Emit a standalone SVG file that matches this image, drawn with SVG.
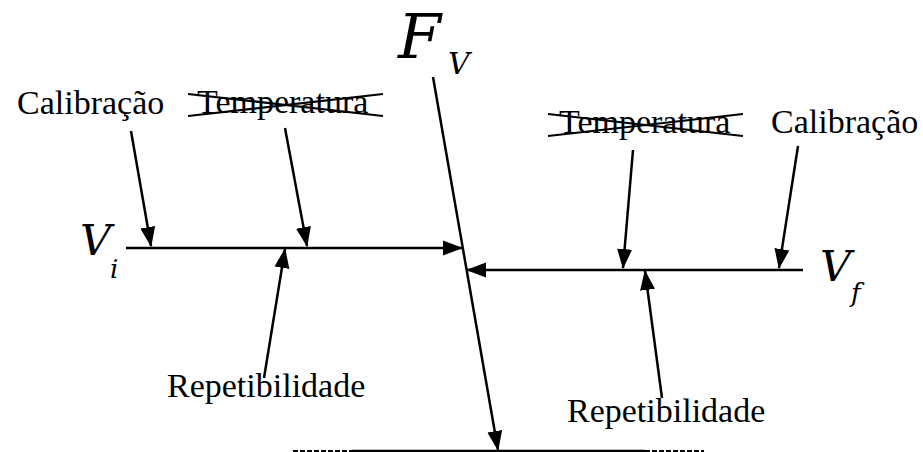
<svg xmlns="http://www.w3.org/2000/svg" width="923" height="452" viewBox="0 0 923 452">
<style>
.t{font-family:"Liberation Serif","Times New Roman",serif;font-size:34px;fill:#000}
.m{font-family:"DejaVu Serif","Liberation Serif",serif;font-style:italic;fill:#000}
.l{stroke:#000;stroke-width:2.5;fill:none}
.x{stroke:#000;stroke-width:2.2;fill:none}
.a{stroke:#000;stroke-width:2.5;fill:none;marker-end:url(#ah)}
</style>
<defs>
<marker id="ah" markerUnits="userSpaceOnUse" markerWidth="20" markerHeight="16" refX="19" refY="8" orient="auto">
<path d="M0,0.5 L20,8 L0,15.5 z" fill="#000"/>
</marker>
</defs>
<g id="labels">
<g id="FV"><text class="m" x="398" y="58" font-size="62">F</text><text class="m" x="448" y="74" font-size="30">V</text></g>
<g id="Vi"><text class="m" x="80" y="255" font-size="43">V</text><text class="m" x="110" y="278" font-size="26">i</text></g>
<g id="Vf"><text class="m" x="820" y="281" font-size="43">V</text><text class="m" x="851" y="302" font-size="26">f</text></g>
<g id="calib-left"><text class="t" x="17" y="114">Calibração</text></g>
<g id="temp-left"><text class="t" x="197" y="113">Temperatura</text><path class="x" d="M188,94 L383,116 M188,116 L383,94"/></g>
<g id="temp-right"><text class="t" x="559" y="133">Temperatura</text><path class="x" d="M548,114 L743,136 M548,136 L743,114"/></g>
<g id="calib-right"><text class="t" x="771" y="133">Calibração</text></g>
<g id="rep-left"><text class="t" x="167" y="397">Repetibilidade</text></g>
<g id="rep-right"><text class="t" x="567" y="422">Repetibilidade</text></g>
</g>
<g id="connectors">
<path class="a" d="M126,248 L462,248"/>
<path class="a" d="M803,270 L467,270"/>
<path class="a" d="M433,77 L498,450"/>
<path class="a" d="M131,131 L151,246"/>
<path class="a" d="M285,128 L307,246"/>
<path class="a" d="M264,378 L285,249"/>
<path class="a" d="M633,150 L623,268"/>
<path class="a" d="M798,146 L779,268"/>
<path class="a" d="M662,398 L645,271"/>
<path class="l" d="M352,451 L645,451"/>
<path class="x" d="M293,451 L352,451 M645,451 L704,451" stroke-dasharray="5,2"/>
</g>
</svg>
